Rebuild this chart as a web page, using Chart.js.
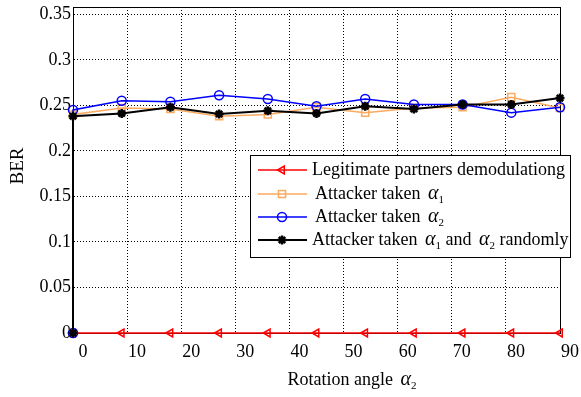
<!DOCTYPE html>
<html>
<head>
<meta charset="utf-8">
<script src="https://cdn.jsdelivr.net/npm/chart.js@4.4.1/dist/chart.umd.min.js"></script>
<style>
  html, body { margin: 0; padding: 0; background: #fff; }
  canvas { display: block; }
</style>
</head>
<body>
<canvas id="berChart" width="581" height="397"></canvas>
<script>
// Rotation angles (degrees) used in the simulation
const angles = [0, 9, 18, 27, 36, 45, 54, 63, 72, 81, 90];
// attacker curves start at (0, 0) and jump up to their first BER value
const attackerAngles = [0, 0, 9, 18, 27, 36, 45, 54, 63, 72, 81, 90];

const legitBER  = [0, 0, 0, 0, 0, 0, 0, 0, 0, 0, 0];
const alpha1BER = [0, 0.240, 0.247, 0.246, 0.238, 0.240, 0.248, 0.242, 0.247, 0.248, 0.259, 0.247];
const alpha2BER = [0, 0.245, 0.255, 0.254, 0.261, 0.257, 0.249, 0.257, 0.251, 0.251, 0.242, 0.248];
const bothBER   = [0, 0.238, 0.241, 0.248, 0.2405, 0.244, 0.241, 0.249, 0.246, 0.251, 0.251, 0.258];

const seriesNames = [
  'Legitimate partners demodulationg',
  'Attacker taken α1',
  'Attacker taken α2',
  'Attacker taken α1 and α2 randomly'
];

const xTicks = [0, 10, 20, 30, 40, 50, 60, 70, 80, 90];
const yTicks = [0, 0.05, 0.1, 0.15, 0.2, 0.25, 0.3, 0.35];
const yMax = 0.358;

const FONT = "'Liberation Serif', 'Times New Roman', serif";

function toPoints(xs, ys) {
  return xs.map((x, i) => ({x: x, y: ys[i]}));
}

// draw text where "α<digit>" becomes an italic alpha with a subscript digit
function drawRich(ctx, text, x, y, size) {
  const parts = text.split(/(α\d)/);
  let cx = x;
  parts.forEach(p => {
    if (!p) return;
    if (/^α\d$/.test(p)) {
      cx += 3;
      ctx.font = 'italic ' + (size + 2) + 'px ' + FONT;
      ctx.fillText('α', cx, y);
      cx += ctx.measureText('α').width;
      ctx.font = Math.round(size * 0.6) + 'px ' + FONT;
      ctx.fillText(p[1], cx, y + size * 0.35);
      cx += ctx.measureText(p[1]).width;
    } else {
      ctx.font = size + 'px ' + FONT;
      ctx.fillText(p, cx, y);
      cx += ctx.measureText(p).width;
    }
  });
  return cx - x;
}

function measureRich(ctx, text, size) {
  ctx.save();
  ctx.globalAlpha = 0;
  const w = drawRich(ctx, text, 0, 0, size);
  ctx.restore();
  return w;
}

// top and right sides of the box
const framePlugin = {
  id: 'frame',
  beforeDatasetsDraw(chart) {
    const {ctx, chartArea: a} = chart;
    ctx.save();
    ctx.strokeStyle = '#000';
    ctx.lineWidth = 1;
    ctx.beginPath();
    ctx.moveTo(a.left, a.top + 0.5);
    ctx.lineTo(a.right + 0.5, a.top + 0.5);
    ctx.lineTo(a.right + 0.5, a.bottom);
    ctx.stroke();
    ctx.restore();
  }
};

// axis titles and the boxed legend inside the plot
const annotatePlugin = {
  id: 'annotate',
  afterDraw(chart) {
    const ctx = chart.ctx;
    ctx.save();
    ctx.fillStyle = '#000';
    ctx.textBaseline = 'middle';
    ctx.textAlign = 'left';

    // x title
    const xt = 'Rotation angle α2';
    const xw = measureRich(ctx, xt, 18);
    drawRich(ctx, xt, 352 - xw / 2, 380, 18);

    // y title
    ctx.save();
    ctx.translate(18, 166);
    ctx.rotate(-Math.PI / 2);
    ctx.font = '19px ' + FONT;
    ctx.textAlign = 'center';
    ctx.fillText('BER', 0, 0);
    ctx.restore();

    // legend box
    const box = {left: 250, top: 155, right: 570, bottom: 257};
    ctx.fillStyle = '#fff';
    ctx.fillRect(box.left, box.top, box.right - box.left, box.bottom - box.top);
    ctx.strokeStyle = '#000';
    ctx.lineWidth = 1;
    ctx.strokeRect(box.left + 0.5, box.top + 0.5, box.right - box.left, box.bottom - box.top);

    const rowY = [170, 194, 217, 240];
    const textX = [312, 315, 315, 312];
    const legendOrder = [0, 1, 2, 3];
    legendOrder.forEach((di, r) => {
      const ds = chart.data.datasets[di];
      const y = rowY[r];
      ctx.strokeStyle = ds.borderColor;
      ctx.lineWidth = ds.borderWidth;
      ctx.setLineDash([]);
      ctx.beginPath();
      ctx.moveTo(258, y);
      ctx.lineTo(307, y);
      ctx.stroke();
      ctx.fillStyle = ds.pointBackgroundColor;
      ctx.lineWidth = ds.pointBorderWidth;
      Chart.helpers.drawPoint(ctx, {
        pointStyle: ds.pointStyle,
        rotation: ds.pointRotation || 0,
        radius: ds.pointRadius,
        borderWidth: ds.pointBorderWidth
      }, 282, y);
      ctx.fillStyle = '#000';
      drawRich(ctx, seriesNames[di], textX[r], y, 18);
    });
    ctx.restore();
  }
};

const gridOpts = {color: '#000', lineWidth: 1, drawTicks: false, tickLength: 0};
const borderOpts = {color: '#000', width: 1, dash: [1, 2]};

new Chart(document.getElementById('berChart'), {
  type: 'line',
  data: {
    datasets: [
      {
        label: seriesNames[0],
        data: toPoints(angles, legitBER),
        borderColor: '#ff0000',
        borderWidth: 1.5,
        pointStyle: 'triangle',
        pointRotation: -90,
        pointRadius: 4.5,
        pointBorderWidth: 1.5,
        pointBorderColor: '#ff0000',
        pointBackgroundColor: 'rgba(255,255,255,0)',
        clip: false,
        order: 3
      },
      {
        label: seriesNames[1],
        data: toPoints(attackerAngles, alpha1BER),
        borderColor: '#fbaa5f',
        borderWidth: 1.5,
        pointStyle: 'rect',
        pointRadius: 5,
        pointBorderWidth: 1.5,
        pointBorderColor: '#fbaa5f',
        pointBackgroundColor: 'rgba(255,255,255,0)',
        clip: false,
        order: 2
      },
      {
        label: seriesNames[2],
        data: toPoints(attackerAngles, alpha2BER),
        borderColor: '#0000ff',
        borderWidth: 1.5,
        pointStyle: 'circle',
        pointRadius: 4.5,
        pointBorderWidth: 1.5,
        pointBorderColor: '#0000ff',
        pointBackgroundColor: 'rgba(255,255,255,0)',
        clip: false,
        order: 1
      },
      {
        label: seriesNames[3],
        data: toPoints(attackerAngles, bothBER),
        borderColor: '#000000',
        borderWidth: 2,
        pointStyle: 'star',
        pointRadius: 4.5,
        pointBorderWidth: 2.5,
        pointBorderColor: '#000000',
        pointBackgroundColor: '#000000',
        clip: false,
        order: 0
      }
    ]
  },
  options: {
    responsive: false,
    animation: false,
    events: [],
    layout: {padding: {top: 5, right: 21, left: 0, bottom: 0}},
    elements: {line: {tension: 0}},
    plugins: {legend: {display: false}, tooltip: {enabled: false}},
    scales: {
      x: {
        type: 'linear',
        min: 0,
        max: 90,
        afterBuildTicks: s => { s.ticks = xTicks.map(v => ({value: v})); },
        afterFit: s => { s.height = 64; s.paddingLeft = 0; s.paddingRight = 0; },
        ticks: {
          color: '#000',
          font: {family: FONT, size: 18},
          padding: 8,
          labelOffset: 10,
          maxRotation: 0,
          autoSkip: false,
          callback: v => String(v)
        },
        grid: gridOpts,
        border: borderOpts
      },
      y: {
        type: 'linear',
        min: 0,
        max: yMax,
        afterBuildTicks: s => { s.ticks = yTicks.map(v => ({value: v})); },
        afterFit: s => { s.width = 73; s.paddingTop = 0; s.paddingBottom = 0; },
        ticks: {
          color: '#000',
          font: {family: FONT, size: 18},
          padding: 2,
          autoSkip: false,
          callback: v => String(v)
        },
        grid: gridOpts,
        border: borderOpts
      }
    }
  },
  plugins: [framePlugin, annotatePlugin]
});
</script>
</body>
</html>
